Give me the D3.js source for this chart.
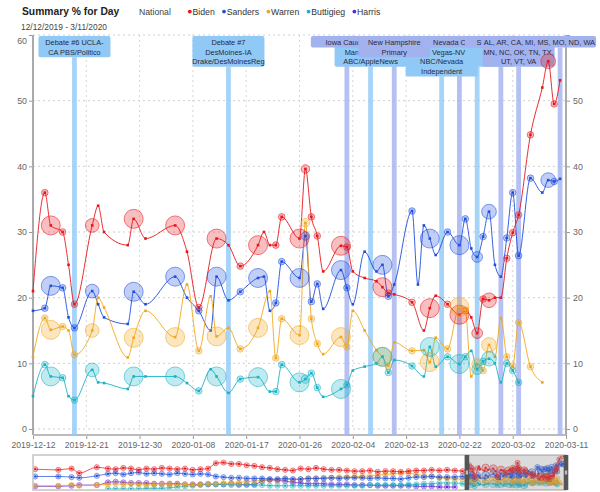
<!DOCTYPE html>
<html><head><meta charset="utf-8">
<script src="https://cdn.jsdelivr.net/npm/d3@7/dist/d3.min.js"></script>
<style>
html,body{margin:0;padding:0;background:#fff;}
svg{display:block;font-family:"Liberation Sans",Arial,Helvetica,sans-serif;}
</style></head><body>
<svg id="chart" width="600" height="492"></svg>
<script>
// ---------------- data ----------------
const candidates = ["Biden","Sanders","Warren","Buttigieg","Harris"];
const dates = ["2019-12-12","2019-12-14","2019-12-15","2019-12-17","2019-12-18","2019-12-19","2019-12-22","2019-12-23","2019-12-24","2019-12-28",
"2019-12-29","2019-12-31","2020-01-05","2020-01-07","2020-01-09","2020-01-11","2020-01-12","2020-01-14","2020-01-16","2020-01-19",
"2020-01-20","2020-01-21","2020-01-22","2020-01-23","2020-01-26","2020-01-27","2020-01-28","2020-01-29","2020-01-30","2020-02-02",
"2020-02-03","2020-02-04","2020-02-06","2020-02-08","2020-02-09","2020-02-10","2020-02-11","2020-02-14","2020-02-15","2020-02-16",
"2020-02-17","2020-02-18","2020-02-20","2020-02-22","2020-02-23","2020-02-24","2020-02-25","2020-02-26","2020-02-27","2020-02-28",
"2020-02-29","2020-03-01","2020-03-02","2020-03-03","2020-03-05","2020-03-07","2020-03-08","2020-03-09","2020-03-10"];
const biden = [21,36,31,30,25,19,31,34,30,28, 32,29,31,27,18.5,null,29,28,24.8,28, 30,28,28,32.3,29,39.6,32.3,29.4,24,27.9,
 27.7,24,23,22.5,21.6,20.7,20.5,19.3,null,15, 18.4,20.3,19,17.4,18,17,14.6,19.8,19.6,20, 20,26,29.9,32.6,44.8,52,56,49.5,53.1];
const sanders = [18,18.4,21.8,21.5,17,15.4,21,19,17,16, 20.9,19,23.2,20,18,15,23.2,19.6,20.9,23, 23.2,18,19.2,25.5,23,29.4,19.4,22.1,18.3,24.2,
 21.5,19,27,24,25,20.2,22,33.2,22,31, 29,26.5,30,28,32,27.5,26.2,29.3,33.1,25, 23.2,29.1,36,26.4,38.2,36,37.9,37.7,38.1];
const warren = [11,16.9,15.1,15.6,15,11.3,15,20,18.5,10.9, 13.9,18,14,22,11.9,20.2,14.1,15.4,12.2,15.4, null,21,10.8,16.8,14.3,31.4,16.8,13,11.4,14,
 12.5,18,15,12,11,9.6,13.2,11.9,null,12, 10.2,13.9,12.2,18.6,18.1,8,9.9,8.9,12.8,11, 16.9,11,9.6,16.2,9.5,7.1,null,null,null];
const buttigieg = [5,9.8,8,7.8,5,4.4,9,7.1,7,6.1, 8,8,8,7,5.8,9.1,8,5.5,7.6,7.9, null,5.7,5.7,9.8,7.1,7.6,8.5,6.3,4.9,6.1,
 6.7,8.9,9.5,10,11,8.6,10.5,9.6,null,8, 12.5,9.5,11,9.9,11,11.9,9.1,10.3,10.7,10, 7.1,10,8.9,7.1,null,null,null,null,null];
const harris = [];
const pollSize = [null,300,2500,300,null,300,1300,null,null,null, 2500,null,2500,null,300,null,2500,null,300,2500,
 null,null,300,300,2500,500,300,300,null,2500, 300,null,null,null,2500,300,null,300,null,null,
 2500,null,300,2500,300,null,800,300,1500,null, null,300,300,300,300,null,1500,300,null];

// overview (context) series, earlier polls
const ctxEarlyDates = ["2018-11-15","2018-12-06","2018-12-18","2018-12-25","2019-01-10"];
const ctxWeeklyStart = "2019-01-20", ctxWeeklyEnd = "2019-12-09";
const ctxBiden = [30,29,31,24,33, 31,30,32,31,29,31,30,32,31,30,31,29,30,31, 39,40,38,38,36,35, 33,32,30,29,28,31,30,32, 30,29,29,28,27, 27,28,26,27, 27,26,27,28, 28,29,28,29, 28,27];
const ctxSanders = [19,19,18,17,20, 23,24,22,24,25,23,24,23,22,24,23,22,23,22, 19,18,17,17,16,16, 16,15,15,16,15,15,16,16, 16,17,16,17,17, 17,16,17,16, 16,15,17,18, 18,19,18,18, 18,19];
const ctxWarren = [5,5,6,5,6, 7,8,7,8,7,6,7,8,7,6,7,6,7,8, 8,9,9,10,11,12, 13,14,14,15,14,15,16,16, 17,17,18,18,19, 19,20,21,22, 23,24,24,22, 20,19,17,16, 15,15];
const ctxButtigieg = [null,null,null,null,null, 0,0,0,0,0,1,1,1,2,3,4,5,6,7, 7,7,6,6,6,6, 6,5,5,5,5,5,5,5, 5,5,5,5,5, 5,6,6,6, 6,6,7,7, 8,8,9,9, 9,8];
const ctxHarris = [4,4,5,6,6, 10,11,10,9,9,9,8,8,8,8,7,7,7,7, 7,7,8,7,7,7, 12,14,13,12,10,9,8,8, 8,7,7,7,6, 6,6,5,5, 5,5,5,4, 4,4,3,3, 3,null];

// events (drawn in this order; later boxes cover earlier ones)
const eventDates = ["2019-12-19","2020-01-14","2020-02-25","2020-02-07","2020-02-19","2020-02-03","2020-02-11","2020-02-22","2020-02-29","2020-03-03","2020-03-10"];
const eventTypes = ["debate","debate","debate","debate","debate","vote","vote","vote","vote","vote","vote"];
const eventLabels = [
 ["Debate #6 UCLA-","CA PBS/Politico"],
 ["Debate #7","DesMoines-IA","Drake/DesMoinesReg"],
 ["Debate #10","Charleston-SC","CBS/Twitter"],
 ["Debate #8","Manchester-NH","ABC/AppleNews"],
 ["Debate #9","Las Vegas-NV","NBC/Nevada","Independent"],
 ["Iowa Caucus"],
 ["New Hampshire","Primary"],
 ["Nevada Caucus"],
 ["South Carolina"],
 ["AL, AR, CA, CO, ME,","MN, NC, OK, TN, TX,","UT, VT, VA"],
 ["MI, MS, MO, ND, WA"]
];
// how many characters of each label line remain visible (null = whole line, 0 = hidden under a later box)
const eventVisibleChars = [
 [null,null],[null,null,null],[0,0,0],[0,3,null],[0,null,null,null],
 [9],[null,null],[8],[1],[11,null,null],[null]
];
const yTicks = [0,10,20,30,40,50,60];
const startDate = "2019-12-12", endDate = "2020-03-11", ctxStart = "2018-11-13";

// ---------------- drawing ----------------
const colors = {Biden:"#e8161c", Sanders:"#1f4ee0", Warren:"#f2a71b", Buttigieg:"#19b2c4", Harris:"#6b1fd8"};
const evColor = {debate:"#90c8f6", vote:"#a2b2ef"};
const parse = d3.timeParse("%Y-%m-%d");
const svg = d3.select("#chart");
const L = 33, R = 566, T = 35, B = 429, AX = 435;
const x = d3.scaleTime().domain([parse(startDate), parse(endDate)]).range([L, R]);
const y = d3.scaleLinear().domain([0, 60]).range([B, T]);
const rs = d3.scaleSqrt().domain([0, 2500]).range([0, 9.5]);
const seriesVals = {Biden:biden, Sanders:sanders, Warren:warren, Buttigieg:buttigieg, Harris:harris};
const series = candidates.map(c => ({
  name: c,
  pts: dates.map((d,i) => ({date: parse(d), v: seriesVals[c][i], s: pollSize[i]}))
          .filter(p => p.v !== null && p.v !== undefined)
}));

// title + legend
svg.append("text").attr("x", 22).attr("y", 15).attr("font-size", 10.3).attr("font-weight", "bold").attr("fill", "#222").text("Summary % for Day");
svg.append("text").attr("x", 21).attr("y", 29.5).attr("font-size", 8.4).attr("fill", "#444").text("12/12/2019 - 3/11/2020");
svg.append("text").attr("x", 139).attr("y", 14.5).attr("font-size", 8.7).attr("fill", "#444").text("National");
let lx = 188;
candidates.forEach(c => {
  svg.append("circle").attr("cx", lx + 1.8).attr("cy", 11.6).attr("r", 1.9).attr("fill", colors[c]);
  const t = svg.append("text").attr("x", lx + 4.5).attr("y", 14.5).attr("font-size", 8.7).attr("fill", "#333").text(c);
  lx = lx + 4.5 + t.node().getComputedTextLength() + 7.5;
});

// grid
const xTicks = d3.timeDay.range(parse(startDate), d3.timeDay.offset(parse(endDate), 1), 9);
const grid = svg.append("g");
grid.selectAll("line.h").data(yTicks).join("line")
  .attr("x1", L).attr("x2", R).attr("y1", d => y(d)).attr("y2", d => y(d))
  .attr("stroke", "#cfcfcf").attr("stroke-dasharray", "2,3");
grid.selectAll("line.v").data(xTicks).join("line")
  .attr("x1", d => x(d)).attr("x2", d => x(d)).attr("y1", T).attr("y2", B)
  .attr("stroke", "#d6d6d6").attr("stroke-dasharray", "2,3");

// axes
function styleAxis(g){
  g.selectAll("text").attr("fill", "#666").attr("font-size", 8.8).attr("font-family", '"Liberation Sans",Arial,sans-serif');
  g.selectAll(".tick line").attr("stroke", "#999");
  g.select(".domain").remove();
  g.selectAll(".tick text").filter(d => d === 60).attr("transform", "translate(0,6)");
}
svg.append("g").attr("transform", `translate(${L},0)`).call(d3.axisLeft(y).tickValues(yTicks).tickSize(4).tickPadding(2)).call(styleAxis);
// right axis: its top label sits under the event boxes, so it is left blank
svg.append("g").attr("transform", `translate(${R},0)`)
  .call(d3.axisRight(y).tickValues(yTicks).tickSize(4).tickPadding(3).tickFormat(d => d === 60 ? "" : d)).call(styleAxis);
const xa = svg.append("g").attr("transform", `translate(0,${AX})`)
  .call(d3.axisBottom(x).tickValues(xTicks).tickFormat(d3.timeFormat("%Y-%m-%d")).tickSize(4).tickPadding(3));
styleAxis(xa); xa.selectAll("text").attr("font-size", 8.6);
svg.append("line").attr("x1", L).attr("x2", L).attr("y1", T).attr("y2", AX).attr("stroke", "#aaa").attr("stroke-width", 2);
svg.append("line").attr("x1", R).attr("x2", R).attr("y1", T).attr("y2", AX).attr("stroke", "#aaa").attr("stroke-width", 2);
svg.append("line").attr("x1", L).attr("x2", R).attr("y1", AX).attr("y2", AX).attr("stroke", "#bbb").attr("stroke-width", 2);

// events: bands then label boxes
const BOXW = 72, BOXT = 36, LH = 9.6, EVFS = 7.4;
const events = eventDates.map((d,i) => ({date: parse(d), type: eventTypes[i], lines: eventLabels[i], vis: eventVisibleChars[i]}));
const evG = svg.append("g");
events.forEach(e => {
  const cx = x(e.date), h = e.lines.length * LH + 2;
  evG.append("rect").attr("x", cx - 2.4).attr("y", BOXT + h).attr("width", 4.8).attr("height", AX - BOXT - h)
    .attr("fill", evColor[e.type]).attr("opacity", 0.8);
});
events.forEach(e => {
  const cx = x(e.date), h = e.lines.length * LH + 2;
  evG.append("rect").attr("x", cx - BOXW/2).attr("y", BOXT).attr("width", BOXW).attr("height", h).attr("rx", 2)
    .attr("fill", evColor[e.type]);
  e.lines.forEach((t, j) => {
    const n = e.vis[j];
    if (n === 0) return;
    const ty = BOXT + 9.2 + j * LH;
    if (n === null) {
      evG.append("text").attr("x", cx).attr("y", ty).attr("text-anchor", "middle")
        .attr("font-size", EVFS).attr("fill", "#2a2a3a").text(t);
    } else {
      const tmp = evG.append("text").attr("font-size", EVFS).text(t);
      const w = tmp.node().getComputedTextLength(); tmp.remove();
      evG.append("text").attr("x", cx - w/2).attr("y", ty).attr("text-anchor", "start")
        .attr("font-size", EVFS).attr("fill", "#2a2a3a").text(t.slice(0, n));
    }
  });
});

// data
const line = d3.line().x(p => x(p.date)).y(p => y(p.v)).curve(d3.curveMonotoneX);
const dataG = svg.append("g");
series.forEach(s => {
  if (!s.pts.length) return;
  dataG.append("path").attr("d", line(s.pts)).attr("fill", "none").attr("stroke", colors[s.name]).attr("stroke-width", 1).attr("opacity", 0.9);
});
series.forEach(s => {
  dataG.selectAll(null).data(s.pts.filter(p => p.s)).join("circle")
    .attr("cx", p => x(p.date)).attr("cy", p => y(p.v)).attr("r", p => rs(p.s))
    .attr("fill", colors[s.name]).attr("fill-opacity", 0.28)
    .attr("stroke", colors[s.name]).attr("stroke-opacity", 0.55).attr("stroke-width", 1);
  dataG.selectAll(null).data(s.pts).join("rect")
    .attr("x", p => x(p.date) - 1.3).attr("y", p => y(p.v) - 1.3).attr("width", 2.6).attr("height", 2.6)
    .attr("fill", colors[s.name]);
});

// context chart
const CT = 455, CB = 490;
const cx0 = d3.scaleTime().domain([parse(ctxStart), parse(endDate)]).range([L, R]);
const cy = d3.scaleLinear().domain([0, 50]).range([CB - 1, CT + 1]);
const ctxDates = ctxEarlyDates.map(parse).concat(d3.timeWeek.range(parse(ctxWeeklyStart), parse(ctxWeeklyEnd)));
const ctxVals = {Biden:ctxBiden, Sanders:ctxSanders, Warren:ctxWarren, Buttigieg:ctxButtigieg, Harris:ctxHarris};
svg.append("defs").append("clipPath").attr("id", "ctxclip").append("rect").attr("x", L).attr("y", CT).attr("width", R - L).attr("height", CB - CT);
const ctxG = svg.append("g").attr("clip-path", "url(#ctxclip)");
const cline = d3.line().x(p => cx0(p.date)).y(p => cy(p.v)).curve(d3.curveMonotoneX);
const ctxSeries = candidates.map(c => {
  const early = ctxDates.map((d,i) => ({date: d, v: ctxVals[c][i], s: 300})).filter(p => p.v !== null && p.v !== undefined);
  const main = series.find(s => s.name === c).pts;
  return {name: c, pts: early.concat(main)};
});
ctxSeries.slice().reverse().forEach(s => {
  ctxG.append("path").attr("d", cline(s.pts)).attr("fill", "none").attr("stroke", colors[s.name]).attr("stroke-width", 0.9).attr("opacity", 0.8);
  ctxG.selectAll(null).data(s.pts.filter(p => p.s)).join("circle")
    .attr("cx", p => cx0(p.date)).attr("cy", p => cy(p.v)).attr("r", p => Math.max(2.6, rs(p.s) * 0.4))
    .attr("fill", colors[s.name]).attr("fill-opacity", 0.25).attr("stroke", colors[s.name]).attr("stroke-opacity", 0.6).attr("stroke-width", 0.8);
  ctxG.selectAll(null).data(s.pts).join("rect")
    .attr("x", p => cx0(p.date) - 1).attr("y", p => cy(p.v) - 1).attr("width", 2).attr("height", 2).attr("fill", colors[s.name]);
});
svg.append("rect").attr("x", L).attr("y", CT).attr("width", R - L).attr("height", CB - CT)
  .attr("fill", "none").attr("stroke", "#c4c4c4").attr("stroke-width", 1.5);

// brush
const brush = d3.brushX().extent([[L, CT], [R, CB]]);
const bg = svg.append("g").call(brush);
bg.call(brush.move, [cx0(parse(startDate)), cx0(parse(endDate))]);
bg.select(".selection").attr("fill", "#888").attr("fill-opacity", 0.3).attr("stroke", "none");
bg.selectAll(".handle").remove();
[cx0(parse(startDate)), cx0(parse(endDate))].forEach(hx => {
  bg.append("rect").attr("x", hx - 2.3).attr("y", CT).attr("width", 4.6).attr("height", CB - CT).attr("fill", "#555");
  bg.append("rect").attr("x", hx - 1.2).attr("y", (CT + CB)/2 - 2).attr("width", 2.4).attr("height", 4).attr("fill", "#bbb");
});
</script>
</body></html>
